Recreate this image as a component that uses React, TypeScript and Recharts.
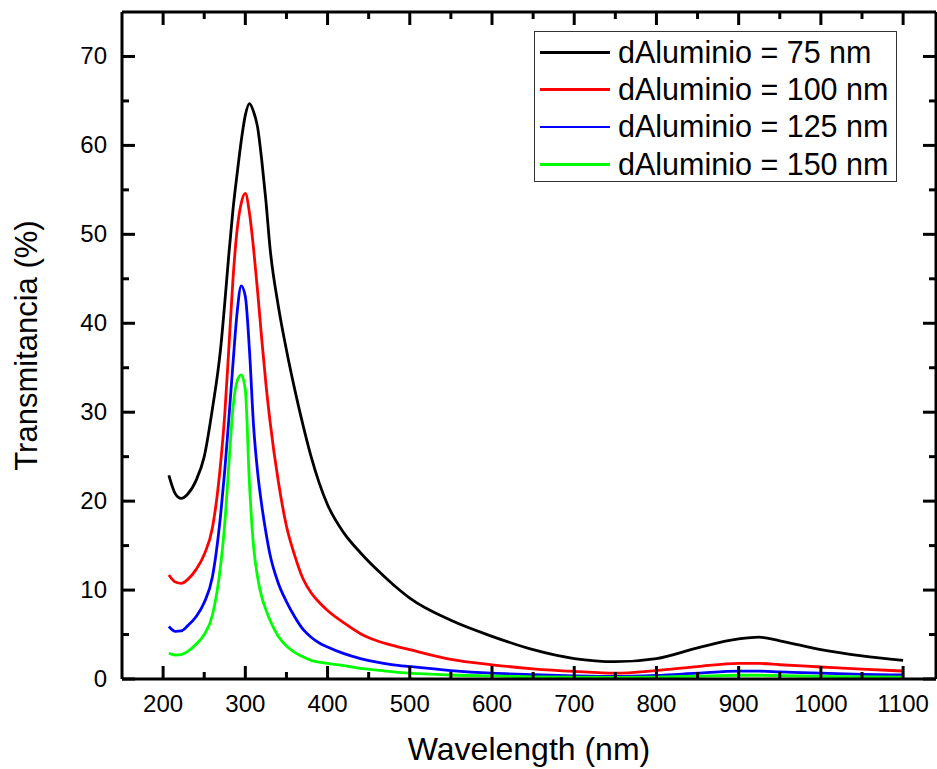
import React from 'react';
import { LineChart, Line, XAxis, YAxis, Legend, Label, ReferenceLine } from 'recharts';

// wavelength grid (nm)
const wavelength = [
  207, 215, 222, 230, 240, 250, 260, 270, 275, 280, 285, 290, 295, 300, 305, 310, 315, 320, 325, 330,
  340, 350, 360, 370, 380, 390, 400, 420, 440, 460, 480, 500, 550, 600, 650, 700, 750, 800, 850, 900,
  925, 950, 1000, 1050, 1100,
];

// transmitancia (%) per aluminium thickness
const t75 = [
  22.9, 20.8, 20.3, 20.8, 22.3, 25.0, 30.4, 37.2, 42.3, 47.8, 52.8, 56.8, 60.5, 63.4, 64.7, 63.8, 62.0, 58.3, 53.8, 48.5,
  42.0, 37.0, 32.6, 28.6, 25.0, 22.0, 19.6, 16.4, 14.2, 12.3, 10.6, 9.1, 6.6, 4.8, 3.3, 2.3, 1.95, 2.3, 3.5, 4.5,
  4.7, 4.3, 3.3, 2.6, 2.1,
];
const t100 = [
  11.7, 10.9, 10.75, 11.2, 12.3, 14.0, 17.0, 24.3, 29.8, 37.3, 45.0, 50.5, 53.5, 54.6, 52.4, 48.4, 43.5, 38.2, 33.2, 29.0,
  22.3, 17.2, 13.9, 11.3, 9.7, 8.6, 7.7, 6.3, 5.1, 4.3, 3.75, 3.3, 2.2, 1.6, 1.15, 0.85, 0.65, 0.95, 1.4, 1.75,
  1.75, 1.6, 1.35, 1.1, 0.9,
];
const t125 = [
  5.9, 5.35, 5.4, 6.0, 7.0, 8.6, 11.5, 18.5, 23.5, 29.3, 35.5, 41.2, 44.2, 43.0, 37.0, 28.5, 23.2, 19.5, 16.5, 14.0,
  10.8, 8.7, 7.0, 5.6, 4.7, 4.05, 3.6, 2.85, 2.3, 1.9, 1.6, 1.4, 0.95, 0.65, 0.48, 0.35, 0.28, 0.4, 0.65, 0.88,
  0.88, 0.8, 0.65, 0.52, 0.45,
];
const t150 = [
  2.9, 2.7, 2.75, 3.1, 3.9, 5.0, 7.2, 12.8, 17.5, 24.2, 30.5, 33.5, 34.2, 32.5, 22.0, 14.9, 11.4, 9.2, 7.8, 6.6,
  4.8, 3.7, 3.0, 2.5, 2.1, 1.9, 1.75, 1.5, 1.2, 1.0, 0.8, 0.65, 0.45, 0.35, 0.25, 0.2, 0.18, 0.22, 0.32, 0.42,
  0.42, 0.38, 0.3, 0.25, 0.2,
];

const xTicks = [200, 250, 300, 350, 400, 450, 500, 550, 600, 650, 700, 750, 800, 850, 900, 950, 1000, 1050, 1100];
const yTicks = [0, 5, 10, 15, 20, 25, 30, 35, 40, 45, 50, 55, 60, 65, 70];

const series = [
  { key: 't75', name: 'dAluminio = 75 nm', color: '#000000' },
  { key: 't100', name: 'dAluminio = 100 nm', color: '#ff0000' },
  { key: 't125', name: 'dAluminio = 125 nm', color: '#0000ff' },
  { key: 't150', name: 'dAluminio = 150 nm', color: '#00ff00' },
];

const data = wavelength.map((w, i) => ({ w, t75: t75[i], t100: t100[i], t125: t125[i], t150: t150[i] }));

const X_MIN = 150;
const X_MAX = 1140;
const Y_MIN = 0;
const Y_MAX = 75;
const PLOT_W = 814;
const PLOT_H = 667;

// inward tick lengths for top/right side, px -> data units
const xTickLen = (px: number) => (px * (Y_MAX - Y_MIN)) / PLOT_H;
const yTickLen = (px: number) => (px * (X_MAX - X_MIN)) / PLOT_W;

const FONT = '"Liberation Sans", Arial, sans-serif';
const FRAME_W = 3;

const BottomTick = (props: any) => {
  const { x, y, payload } = props;
  const major = payload.value % 100 === 0;
  return (
    <g>
      <line x1={x} y1={y} x2={x} y2={y - (major ? 13 : 7)} stroke="#000" strokeWidth={FRAME_W} />
      {major && (
        <text x={x} y={y + 33} textAnchor="middle" fontSize={24} fontFamily={FONT}>
          {payload.value}
        </text>
      )}
    </g>
  );
};

const LeftTick = (props: any) => {
  const { x, y, payload } = props;
  const major = payload.value % 10 === 0;
  return (
    <g>
      <line x1={x} y1={y} x2={x + (major ? 13 : 7)} y2={y} stroke="#000" strokeWidth={FRAME_W} />
      {major && (
        <text x={x - 15} y={y + 8} textAnchor="end" fontSize={24} fontFamily={FONT}>
          {payload.value}
        </text>
      )}
    </g>
  );
};

// legend box without a background fill (the area under it is empty anyway)
const renderLegend = () => (
  <div
    style={{
      width: 361,
      height: 147,
      paddingTop: 2,
      border: '1px solid #333',
      fontFamily: FONT,
    }}
  >
    {series.map(s => (
      <div key={s.key} style={{ display: 'flex', alignItems: 'center', height: 37.2 }}>
        <div style={{ width: 70, height: 2.8, background: s.color, marginLeft: 5 }} />
        <span style={{ marginLeft: 8, fontSize: 30.5, lineHeight: '37px', color: '#000', whiteSpace: 'nowrap' }}>
          {s.name}
        </span>
      </div>
    ))}
  </div>
);

export default function App() {
  return (
    <div style={{ position: 'absolute', left: 0, top: 0 }}>
      <LineChart width={937} height={769} data={data} margin={{ top: 12, right: 1, bottom: 0, left: 0 }}>
        <XAxis
          dataKey="w"
          type="number"
          domain={[X_MIN, X_MAX]}
          ticks={xTicks}
          interval={0}
          height={90}
          tickSize={0}
          tickMargin={0}
          tickLine={false}
          axisLine={{ stroke: '#000', strokeWidth: FRAME_W }}
          tick={<BottomTick />}
        >
          <Label
            value="Wavelength (nm)"
            position="insideBottom"
            offset={9}
            style={{ fontSize: 32, fontFamily: FONT, fill: '#000' }}
          />
        </XAxis>
        <YAxis
          type="number"
          domain={[Y_MIN, Y_MAX]}
          ticks={yTicks}
          interval={0}
          width={122}
          tickSize={0}
          tickMargin={0}
          tickLine={false}
          axisLine={{ stroke: '#000', strokeWidth: FRAME_W }}
          tick={<LeftTick />}
        >
          <Label
            value="Transmitancia (%)"
            angle={-90}
            position="insideLeft"
            offset={26}
            style={{ fontSize: 31, fontFamily: FONT, fill: '#000', textAnchor: 'middle' }}
          />
        </YAxis>

        {/* top and right frame with inward ticks */}
        <ReferenceLine y={Y_MAX} stroke="#000" strokeWidth={FRAME_W} />
        <ReferenceLine x={X_MAX} stroke="#000" strokeWidth={FRAME_W} />
        {xTicks.map(t => (
          <ReferenceLine
            key={`top${t}`}
            segment={[{ x: t, y: Y_MAX }, { x: t, y: Y_MAX - xTickLen(t % 100 === 0 ? 13 : 7) }]}
            stroke="#000"
            strokeWidth={FRAME_W}
          />
        ))}
        {yTicks.map(t => (
          <ReferenceLine
            key={`right${t}`}
            segment={[{ x: X_MAX, y: t }, { x: X_MAX - yTickLen(t % 10 === 0 ? 13 : 7), y: t }]}
            stroke="#000"
            strokeWidth={FRAME_W}
          />
        ))}

        <Legend
          layout="horizontal"
          verticalAlign="middle"
          content={renderLegend}
          wrapperStyle={{ position: 'absolute', left: 534, top: 31 }}
        />
        {series.map(s => (
          <Line
            key={s.key}
            dataKey={s.key}
            type="monotone"
            stroke={s.color}
            strokeWidth={2.8}
            dot={false}
            isAnimationActive={false}
          />
        ))}
      </LineChart>
    </div>
  );
}
